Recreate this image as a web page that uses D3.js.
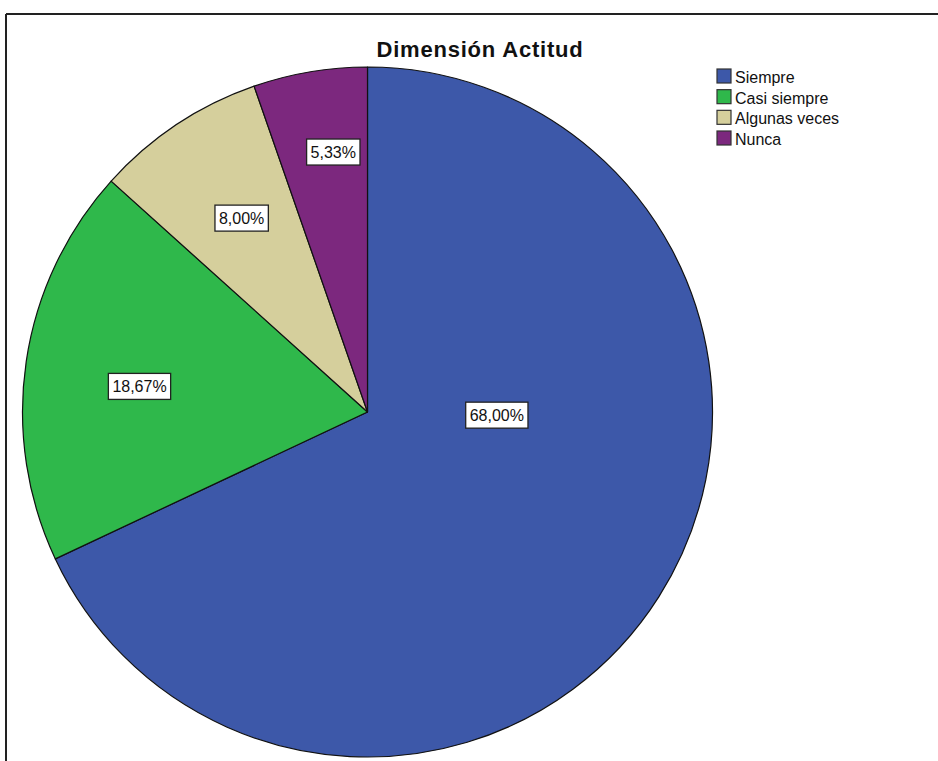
<!DOCTYPE html>
<html>
<head>
<meta charset="utf-8">
<script src="https://cdn.jsdelivr.net/npm/d3@7"></script>
<style>
  html, body { margin: 0; padding: 0; background: #fff; }
  svg { display: block; }
</style>
</head>
<body>
<svg id="chart" width="938" height="761"></svg>
<script>
// ---- data ----
const title = "Dimensión Actitud";
const categories = ["Siempre", "Casi siempre", "Algunas veces", "Nunca"];
const percents = [68.00, 18.67, 8.00, 5.33];
const percentLabels = ["68,00%", "18,67%", "8,00%", "5,33%"];
const colors = ["#3D58A9", "#2FB84B", "#D5CF9C", "#7C287E"];

// ---- layout (not data) ----
const W = 938, H = 761;
const cx = 367.5, cy = 412, R = 345;
// label placement in polar terms: [angle offset from slice mid (deg), radius fraction]
const labelPlacement = [[-31, 0.375], [-2, 0.665], [0.6, 0.67], [2.1, 0.76]];

const svg = d3.select("#chart");

// frame
svg.append("line").attr("x1", 6).attr("y1", 14).attr("x2", W).attr("y2", 14)
  .attr("stroke", "#222").attr("stroke-width", 2);
svg.append("line").attr("x1", 6).attr("y1", 14).attr("x2", 6).attr("y2", H)
  .attr("stroke", "#222").attr("stroke-width", 2);

// title
svg.append("text")
  .attr("x", 480).attr("y", 57)
  .attr("text-anchor", "middle")
  .attr("font-family", "'Liberation Sans', Arial, sans-serif")
  .attr("font-weight", "bold")
  .attr("font-size", 22)
  .attr("letter-spacing", 0.8)
  .attr("fill", "#111")
  .text(title);

// pie
const pieData = d3.pie().sort(null).value(d => d.v)(
  categories.map((c, i) => ({ c, v: percents[i], label: percentLabels[i], color: colors[i] }))
);
const arc = d3.arc().innerRadius(0).outerRadius(R);

const g = svg.append("g").attr("transform", `translate(${cx},${cy})`);
g.selectAll("path.slice").data(pieData).enter().append("path")
  .attr("class", "slice")
  .attr("d", arc)
  .attr("fill", d => d.data.color)
  .attr("stroke", "#111")
  .attr("stroke-width", 1.2)
  .attr("stroke-linejoin", "round");

// labels
const labels = g.selectAll("g.lbl").data(pieData).enter().append("g").attr("class", "lbl")
  .attr("transform", (d, i) => {
    const mid = (d.startAngle + d.endAngle) / 2 + labelPlacement[i][0] * Math.PI / 180;
    const r = labelPlacement[i][1] * R;
    return `translate(${Math.sin(mid) * r},${-Math.cos(mid) * r})`;
  });
labels.each(function(d) {
  const sel = d3.select(this);
  const t = sel.append("text")
    .attr("text-anchor", "middle")
    .attr("y", 6)
    .attr("font-family", "'Liberation Sans', Arial, sans-serif")
    .attr("font-size", 16)
    .attr("fill", "#111")
    .text(d.data.label);
  const bb = t.node().getBBox();
  sel.insert("rect", "text")
    .attr("x", bb.x - 4).attr("y", -13)
    .attr("width", bb.width + 8).attr("height", 26)
    .attr("fill", "#fff")
    .attr("stroke", "#222")
    .attr("stroke-width", 1.3);
});

// legend
const legendY = d3.scalePoint().domain(categories).range([69, 131]);
const lg = svg.append("g");
const items = lg.selectAll("g").data(categories).enter().append("g")
  .attr("transform", d => `translate(717,${legendY(d)})`);
items.append("rect")
  .attr("width", 14).attr("height", 14)
  .attr("fill", (d, i) => colors[i])
  .attr("stroke", "#333").attr("stroke-width", 1.2);
items.append("text")
  .attr("x", 18).attr("y", 14)
  .attr("font-family", "'Liberation Sans', Arial, sans-serif")
  .attr("font-size", 16)
  .attr("fill", "#111")
  .text(d => d);
</script>
</body>
</html>
